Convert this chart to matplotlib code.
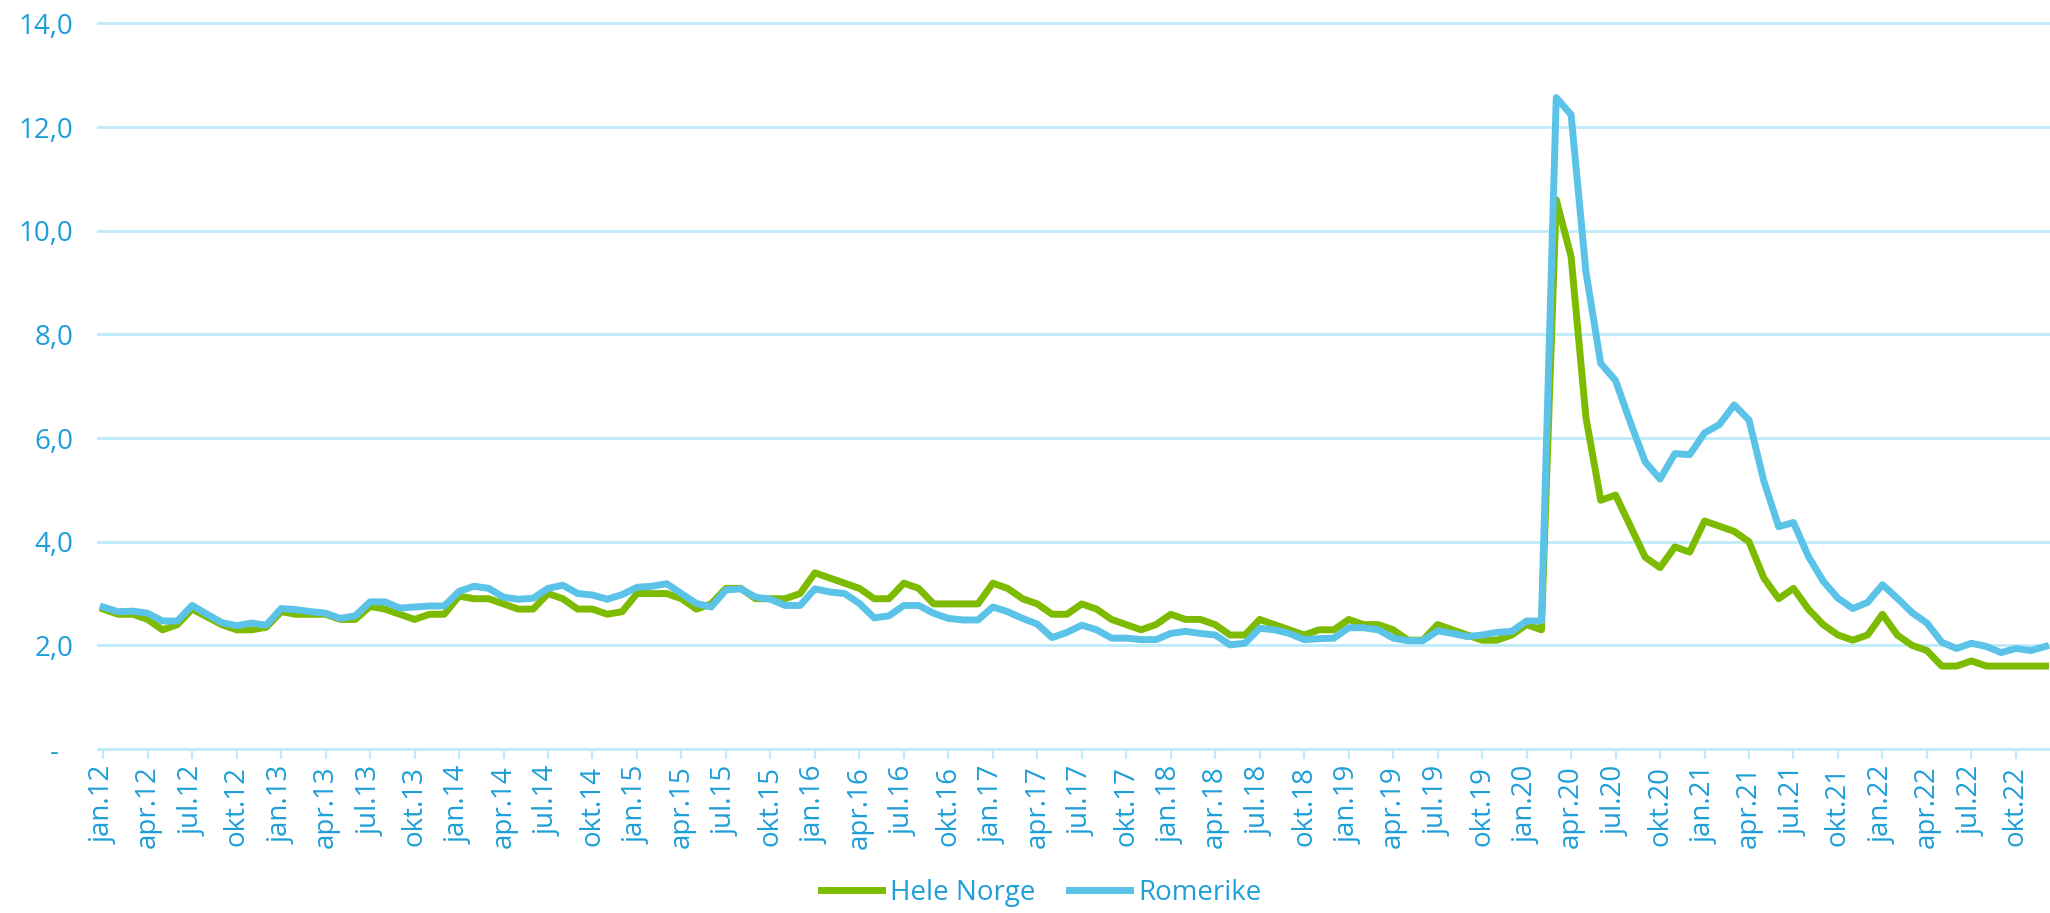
import matplotlib
matplotlib.use("Agg")
import matplotlib.pyplot as plt
import numpy as np

months = ["jan", "feb", "mar", "apr", "mai", "jun", "jul", "aug", "sep", "okt", "nov", "des"]
years = list(range(12, 23))
categories = [f"{m}.{y}" for y in years for m in months]

hele_norge = [
    2.7, 2.6, 2.6, 2.5, 2.3, 2.4, 2.7, 2.55, 2.4, 2.3, 2.3, 2.35,
    2.65, 2.6, 2.6, 2.6, 2.5, 2.5, 2.75, 2.7, 2.6, 2.5, 2.6, 2.6,
    2.95, 2.9, 2.9, 2.8, 2.7, 2.7, 3.0, 2.9, 2.7, 2.7, 2.6, 2.65,
    3.0, 3.0, 3.0, 2.9, 2.7, 2.8, 3.1, 3.1, 2.9, 2.9, 2.9, 3.0,
    3.4, 3.3, 3.2, 3.1, 2.9, 2.9, 3.2, 3.1, 2.8, 2.8, 2.8, 2.8,
    3.2, 3.1, 2.9, 2.8, 2.6, 2.6, 2.8, 2.7, 2.5, 2.4, 2.3, 2.4,
    2.6, 2.5, 2.5, 2.4, 2.2, 2.2, 2.5, 2.4, 2.3, 2.2, 2.3, 2.3,
    2.5, 2.4, 2.4, 2.3, 2.1, 2.1, 2.4, 2.3, 2.2, 2.1, 2.1, 2.2,
    2.4, 2.3, 10.6, 9.5, 6.4, 4.8, 4.9, 4.3, 3.7, 3.5, 3.9, 3.8,
    4.4, 4.3, 4.2, 4.0, 3.3, 2.9, 3.1, 2.7, 2.4, 2.2, 2.1, 2.2,
    2.6, 2.2, 2.0, 1.9, 1.6, 1.6, 1.7, 1.6, 1.6, 1.6, 1.6, 1.6,
]

romerike = [
    2.74, 2.65, 2.66, 2.62, 2.47, 2.47, 2.77, 2.6, 2.44, 2.38, 2.43, 2.39,
    2.71, 2.69, 2.65, 2.62, 2.52, 2.57, 2.84, 2.84, 2.72, 2.74, 2.76, 2.76,
    3.04, 3.14, 3.1, 2.93, 2.89, 2.91, 3.1, 3.16, 3.0, 2.97, 2.89, 2.98,
    3.12, 3.14, 3.19, 3.0, 2.81, 2.74, 3.07, 3.09, 2.93, 2.89, 2.77, 2.77,
    3.09, 3.03, 3.0, 2.81, 2.53, 2.57, 2.77, 2.77, 2.62, 2.52, 2.49, 2.49,
    2.74, 2.65, 2.52, 2.41, 2.15, 2.25, 2.39, 2.3, 2.14, 2.14, 2.11, 2.11,
    2.23, 2.27, 2.23, 2.2, 2.01, 2.04, 2.33, 2.3, 2.23, 2.11, 2.13, 2.14,
    2.34, 2.34, 2.3, 2.14, 2.09, 2.09, 2.28, 2.23, 2.17, 2.2, 2.25, 2.27,
    2.47, 2.47, 12.57, 12.24, 9.21, 7.44, 7.11, 6.3, 5.54, 5.21, 5.7, 5.68,
    6.1, 6.26, 6.64, 6.35, 5.17, 4.29, 4.37, 3.72, 3.24, 2.91, 2.71, 2.83,
    3.17, 2.91, 2.63, 2.43, 2.06, 1.94, 2.04, 1.98, 1.86, 1.94, 1.9, 1.98,
]

y_ticks = [0, 2, 4, 6, 8, 10, 12, 14]
y_tick_labels = ["-  ", "2,0", "4,0", "6,0", "8,0", "10,0", "12,0", "14,0"]

plt.rcParams["font.family"] = ["Open Sans", "DejaVu Sans"]

text_color = "#1F9ED8"
grid_color = "#BDEBFA"
green = "#7DBB00"
blue = "#5BC3E8"

fig = plt.figure(figsize=(20.5, 9.13), dpi=100)
ax = fig.add_axes([98 / 2050, (913 - 749) / 913, 1 - 98 / 2050, (749 - 23.5) / 913])

x = np.arange(len(categories))
ax.plot(x, hele_norge, color=green, lw=5, label="Hele Norge", solid_joinstyle="round", zorder=3)
ax.plot(x, romerike, color=blue, lw=5, label="Romerike", solid_joinstyle="round", zorder=4)

ax.set_ylim(0, 14)
ax.set_xlim(-0.35, 131.3)
ax.set_yticks(y_ticks)
ax.set_yticklabels(y_tick_labels)
for yv in y_ticks[1:]:
    ax.axhline(yv, color=grid_color, lw=2.0, zorder=1, clip_on=False)

tick_pos = x[::3]
ax.set_xticks(tick_pos)
ax.set_xticklabels([categories[i] for i in tick_pos], rotation=90)

for s in ["top", "right", "left"]:
    ax.spines[s].set_visible(False)
ax.spines["bottom"].set_color(grid_color)
ax.spines["bottom"].set_linewidth(2.0)

ax.tick_params(axis="y", length=0, pad=18, labelsize=20, labelcolor=text_color)
ax.tick_params(axis="x", length=7, width=1.6, color=grid_color, pad=5,
               labelsize=20, labelcolor=text_color)

leg = fig.legend(loc="center", bbox_to_anchor=(0.508, 0.022), ncol=2, frameon=False,
                 fontsize=20, handlelength=2.2, columnspacing=1.2, handletextpad=0.3)
for t in leg.get_texts():
    t.set_color(text_color)
for h in leg.get_lines():
    h.set_linewidth(5)

fig.savefig("out.png", dpi=100)
